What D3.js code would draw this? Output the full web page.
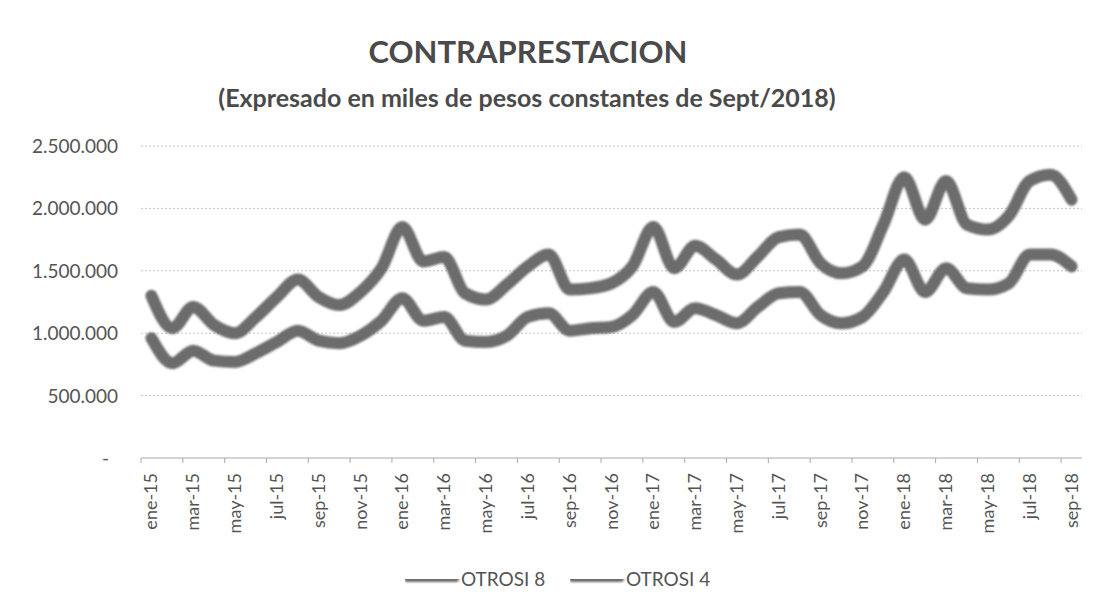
<!DOCTYPE html>
<html>
<head>
<meta charset="utf-8">
<script src="https://cdn.jsdelivr.net/npm/d3@7"></script>
<style>
  body { margin: 0; background: #fff; }
  text { font-family: Lato, "Open Sans", sans-serif; }
</style>
</head>
<body>
<script>
// months, ene-15 .. sep-18
var months = ["ene","feb","mar","abr","may","jun","jul","ago","sep","oct","nov","dic"];
var categories = [];
for (var yr = 15; yr <= 18; yr++) {
    for (var m = 0; m < 12; m++) {
        if (yr == 18 && m > 8) break;
        categories.push(months[m] + "-" + yr);
    }
}

var otrosi8 = [1300000,1040000,1210000,1065000,1000000,1130000,1290000,1430000,1290000,1226000,
               1330000,1520000,1850000,1575000,1610000,1320000,1270000,1390000,1535000,1630000,
               1350000,1360000,1400000,1535000,1850000,1520000,1700000,1590000,1470000,1615000,
               1770000,1790000,1560000,1480000,1535000,1870000,2250000,1910000,2220000,1870000,
               1830000,1940000,2220000,2270000,2070000];

var otrosi4 = [960000,760000,860000,780000,770000,840000,930000,1020000,940000,920000,
               980000,1100000,1280000,1100000,1130000,940000,930000,980000,1130000,1160000,
               1020000,1040000,1050000,1145000,1330000,1090000,1200000,1145000,1080000,1210000,
               1320000,1330000,1145000,1080000,1130000,1330000,1590000,1330000,1520000,1360000,
               1350000,1400000,1630000,1630000,1535000];

var seriesNames = ["OTROSI 8", "OTROSI 4"];
var yTicks = [0, 500000, 1000000, 1500000, 2000000, 2500000];

var width = 1102, height = 614;
var margin = {left: 141, right: 20, top: 146, bottom: 156};

var svg = d3.select("body").append("svg")
    .attr("width", width)
    .attr("height", height);

var x = d3.scaleBand()
    .domain(categories)
    .range([margin.left, width - margin.right])
    .padding(0);

var y = d3.scaleLinear()
    .domain([0, 2500000])
    .range([height - margin.bottom, margin.top]);

var es = d3.formatLocale({decimal: ",", thousands: ".", grouping: [3], currency: ["$", ""]});
var fmt = es.format(",.0f");

//title
svg.append("text")
    .attr("x", 528).attr("y", 63)
    .attr("text-anchor", "middle")
    .style("font-size", "31px").style("font-weight", "bold").style("fill", "#4a4a4a")
    .text("CONTRAPRESTACION");

svg.append("text")
    .attr("x", 527).attr("y", 107)
    .attr("text-anchor", "middle")
    .style("font-size", "25px").style("font-weight", "bold").style("fill", "#4a4a4a")
    .text("(Expresado en miles de pesos constantes de Sept/2018)");

//gridlines
svg.selectAll(".grid")
    .data(yTicks.slice(1))
    .enter().append("line")
    .attr("class", "grid")
    .attr("x1", margin.left).attr("x2", width - margin.right)
    .attr("y1", function(d){ return y(d); })
    .attr("y2", function(d){ return y(d); })
    .style("stroke", "#c4c4c4")
    .style("stroke-dasharray", "2,2");

//y labels
svg.selectAll(".ylab")
    .data(yTicks)
    .enter().append("text")
    .attr("class", "ylab")
    .attr("x", function(d){ return d == 0 ? 109 : 118; })
    .attr("y", function(d){ return y(d) + 7; })
    .attr("text-anchor", "end")
    .style("font-size", "19px").style("fill", "#555")
    .text(function(d){ return d == 0 ? "-" : fmt(d); });

//x axis line + ticks every 2 months
var y0 = y(0);
svg.append("line")
    .attr("x1", margin.left).attr("x2", width - margin.right)
    .attr("y1", y0).attr("y2", y0)
    .style("stroke", "#aaa");

var tickCats = categories.filter(function(d, i){ return i % 2 == 0; });

svg.selectAll(".xtick")
    .data(tickCats)
    .enter().append("line")
    .attr("x1", function(d){ return x(d); })
    .attr("x2", function(d){ return x(d); })
    .attr("y1", y0).attr("y2", y0 + 5)
    .style("stroke", "#aaa");

svg.selectAll(".xlab")
    .data(tickCats)
    .enter().append("text")
    .attr("class", "xlab")
    .attr("transform", function(d){
        return "translate(" + (x(d) + x.bandwidth() / 2 + 6) + "," + (y0 + 15) + ") rotate(-90)";
    })
    .attr("text-anchor", "end")
    .style("font-size", "18px").style("fill", "#555")
    .text(function(d){ return d; });

//lines
var defs = svg.append("defs");
defs.append("filter").attr("id", "soft")
    .attr("filterUnits", "userSpaceOnUse")
    .attr("x", 0).attr("y", 0).attr("width", width).attr("height", height)
    .append("feGaussianBlur").attr("stdDeviation", 0.8);

var line = d3.line()
    .x(function(d, i){ return x(categories[i]) + x.bandwidth() / 2; })
    .y(function(d){ return y(d); })
    .curve(d3.curveMonotoneX);

[otrosi8, otrosi4].forEach(function(s){
    svg.append("path")
        .datum(s)
        .attr("d", line)
        .attr("filter", "url(#soft)")
        .style("fill", "none")
        .style("stroke", "#6c6c6c")
        .style("stroke-width", 12)
        .style("stroke-linejoin", "round")
        .style("stroke-linecap", "round");
});

//legend
var legendX = [405, 570];
seriesNames.forEach(function(name, i){
    var g = svg.append("g").attr("transform", "translate(" + legendX[i] + ",579)");
    g.append("line")
        .attr("x1", 2).attr("x2", 51)
        .attr("y1", 0).attr("y2", 0)
        .attr("filter", "url(#soft)")
        .style("stroke", "#6c6c6c").style("stroke-width", 6)
        .style("stroke-linecap", "round");
    g.append("text")
        .attr("x", 56).attr("y", 7)
        .style("font-size", "19px").style("fill", "#555")
        .text(name);
});
</script>
</body>
</html>
